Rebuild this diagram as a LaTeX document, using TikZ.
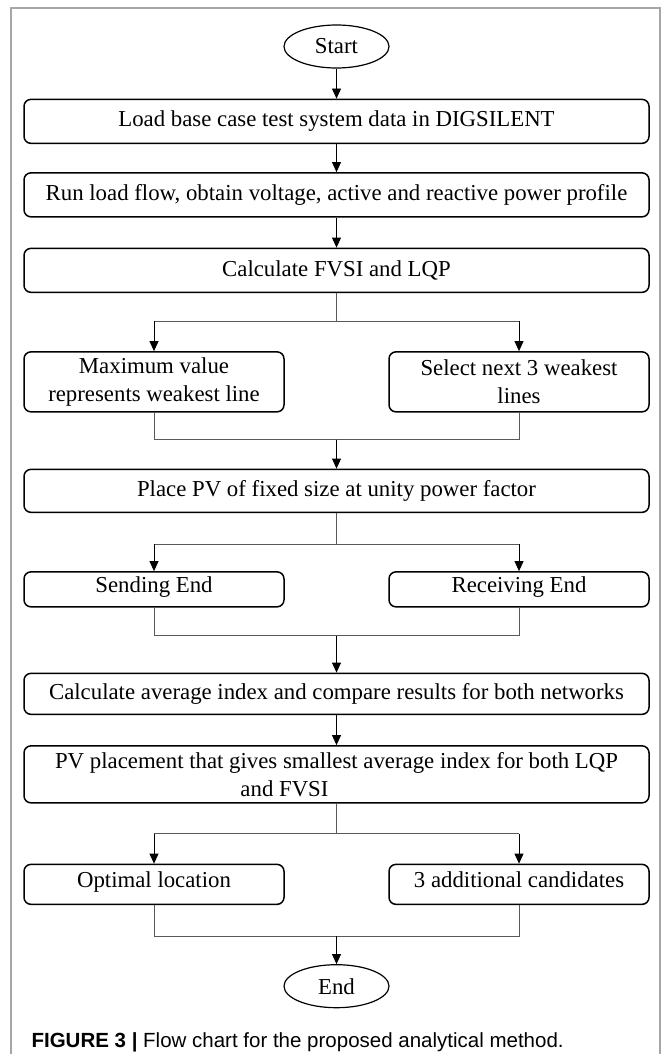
\documentclass[tikz,border=0pt]{standalone}
\usepackage{fontspec}
\setmainfont{Liberation Serif}
\newfontfamily\capfont{Liberation Sans}
\usetikzlibrary{arrows.meta,positioning,shapes.geometric}

\begin{document}
\begin{tikzpicture}[
    x=1pt, y=1pt,
    node distance=29pt and 0pt,
    box/.style={draw, line width=1.5pt, rounded corners=7pt, align=center,
                minimum width=625pt, minimum height=44pt, inner sep=2pt,
                font=\fontsize{22.8}{28}\selectfont},
    half/.style={box, minimum width=260pt, minimum height=38pt},
    oneline/.style={text height=0.66em, text depth=0.02em},
    term/.style={draw, ellipse, line width=1.2pt, minimum width=105pt,
                minimum height=43pt, inner sep=0pt, font=\fontsize{22.8}{28}\selectfont},
    arr/.style={-{Triangle[length=10pt,width=9pt]}, line width=0.8pt},
    trunk/.style={line width=0.8pt, draw=black!65}
]
\useasboundingbox (0,0) rectangle (662,-1054);

% frame round the figure
\draw[black!35, line width=1.5pt] (11,-1054) -- (11,-8) -- (660,-8) -- (660,-1054);

\node[term] (start) at (336.5,-46.5) {Start};
\node[box, below=30pt of start] (load) {Load base case test system data in DIGSILENT};
\node[box, below=28pt of load] (run) {Run load flow, obtain voltage, active and reactive power profile};
\node[box, below=30pt of run] (calc) {Calculate FVSI and LQP};

\node[half, minimum height=60pt, below=58pt of calc.south west, anchor=north west] (maxv) {Maximum value\\represents weakest line};
\node[half, minimum height=60pt, below=58pt of calc.south east, anchor=north east] (rsel) {Select next 3 weakest\\lines};

\node[box, minimum height=43pt, below=56pt of maxv.south west, anchor=north west] (place) {Place PV of fixed size at unity power factor};

\node[half, oneline, minimum height=35pt, below=58pt of place.south west, anchor=north west] (send) {Sending End};
\node[half, oneline, minimum height=35pt, below=58pt of place.south east, anchor=north east] (recv) {Receiving End};

\node[box, minimum height=41pt, below=65pt of send.south west, anchor=north west] (avg) {Calculate average index and compare results for both networks};
\node[box, minimum height=57pt, below=30pt of avg] (pvpl) {PV placement that gives smallest average index for both LQP\\and FVSI\hspace*{104pt}};

\node[half, oneline, minimum height=40pt, below=60pt of pvpl.south west, anchor=north west] (opt) {Optimal location};
\node[half, oneline, minimum height=40pt, below=60pt of pvpl.south east, anchor=north east] (add3) {3 additional candidates};

% branch and merge points
\coordinate[below=28pt of calc.south] (b1);
\coordinate[below=27pt of calc.south |- maxv.south] (m1);
\coordinate[below=31pt of place.south] (b2);
\coordinate[below=28pt of place.south |- send.south] (m2);
\coordinate[below=30pt of pvpl.south] (b3);
\coordinate[below=31pt of pvpl.south |- opt.south] (m3);

\node[term, below=28pt of m3] (stop) {End};

\draw[arr] (start) -- (load);
\draw[arr] (load) -- (run);
\draw[arr] (run) -- (calc);

\draw[trunk] (calc) -- (b1);
\draw[trunk] (maxv.north |- b1) -- (rsel.north |- b1);
\draw[arr] (maxv.north |- b1) -- (maxv);
\draw[arr] (rsel.north |- b1) -- (rsel);
\draw[trunk] (maxv) |- (m1) -| (rsel);
\draw[arr] (m1) -- (place);

\draw[trunk] (place) -- (b2);
\draw[trunk] (send.north |- b2) -- (recv.north |- b2);
\draw[arr] (send.north |- b2) -- (send);
\draw[arr] (recv.north |- b2) -- (recv);
\draw[trunk] (send) |- (m2) -| (recv);
\draw[arr] (m2) -- (avg);

\draw[arr] (avg) -- (pvpl);

\draw[trunk] (pvpl) -- (b3);
\draw[trunk] (opt.north |- b3) -- (add3.north |- b3);
\draw[arr] (opt.north |- b3) -- (opt);
\draw[arr] (add3.north |- b3) -- (add3);
\draw[trunk] (opt) |- (m3) -| (add3);
\draw[arr] (m3) -- (stop);

\node[anchor=base west, font=\capfont\fontsize{20.5}{24}\selectfont] (cap) at (28,-1047)
    {\textbf{FIGURE 3 |} Flow chart for the proposed analytical method.};

\end{tikzpicture}
\end{document}
